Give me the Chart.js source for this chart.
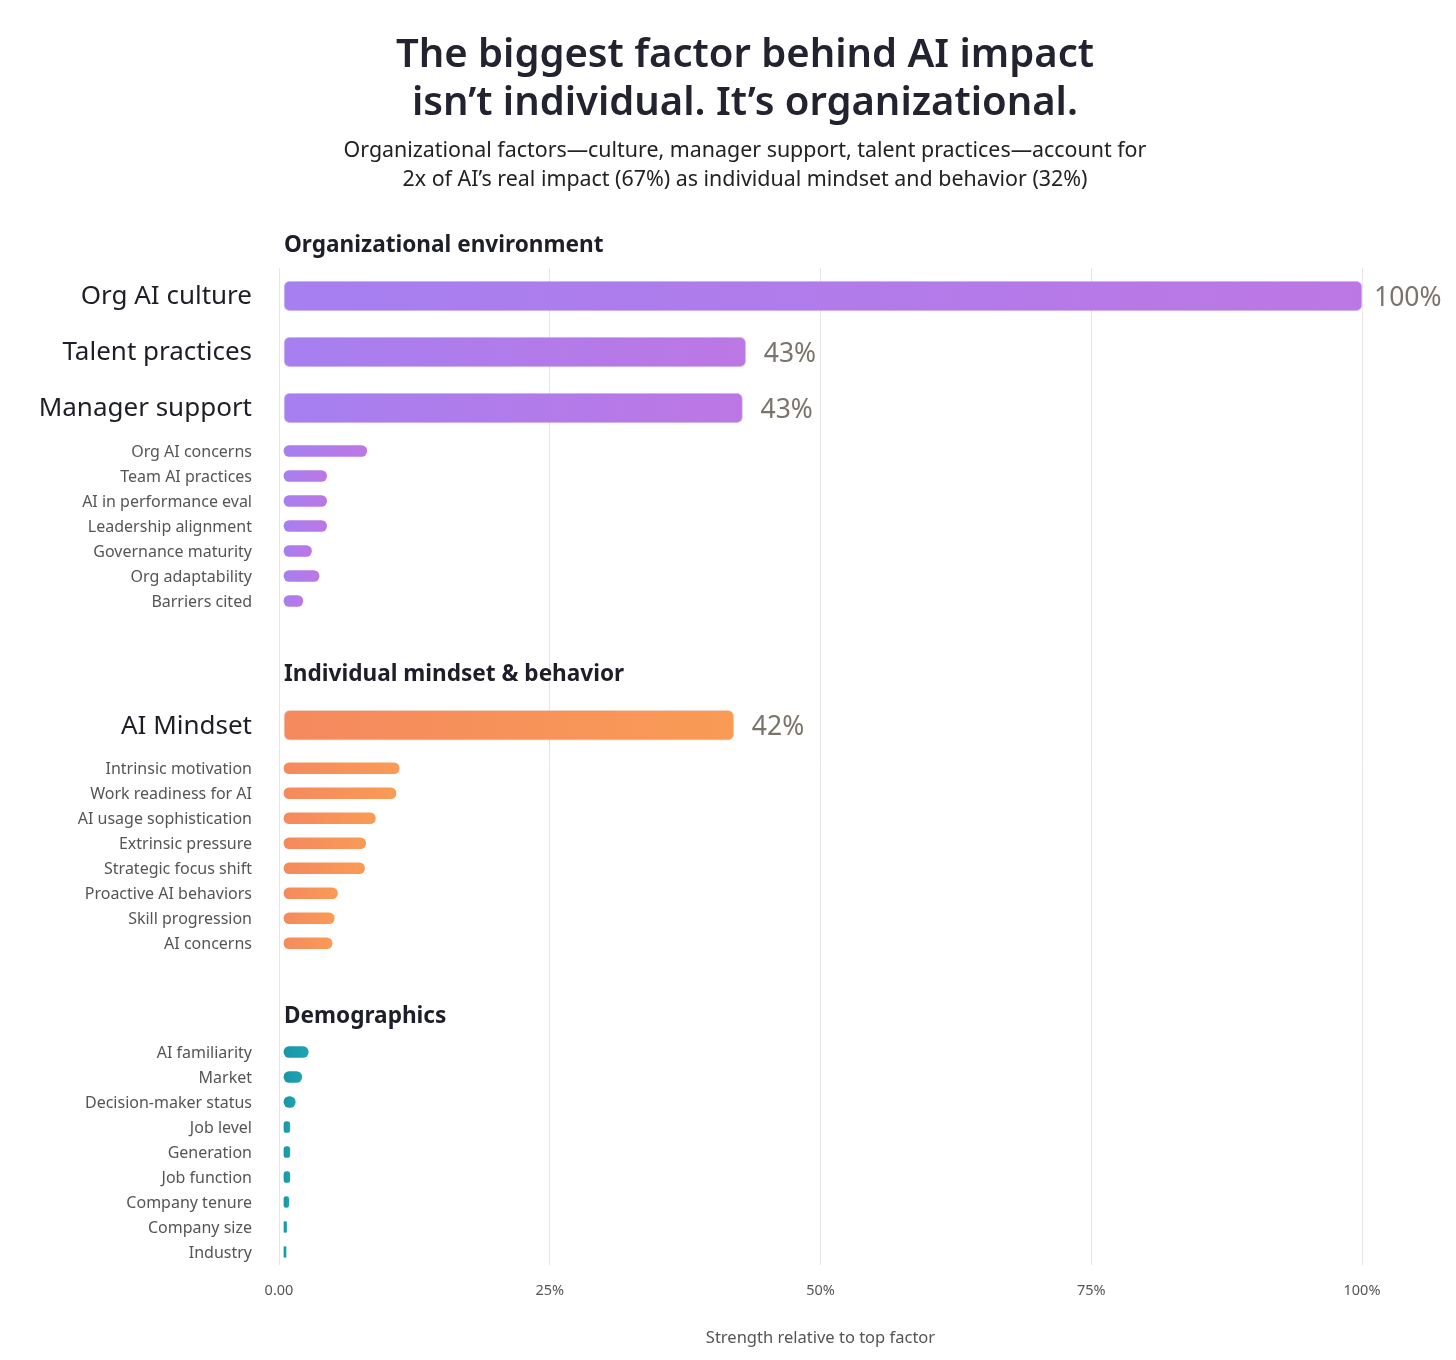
<!DOCTYPE html>
<html>
<head>
<meta charset="utf-8">
<script src="https://cdn.jsdelivr.net/npm/chart.js@4.4.1/dist/chart.umd.min.js"></script>
<style>
    html, body { margin: 0; padding: 0; background: #fff; }
    #wrap { position: relative; width: 1456px; height: 1360px; overflow: hidden; }
    #myChart { position: absolute; left: 0; top: 0; }
    .title { position: absolute; left: 745px; transform: translateX(-50%); white-space: nowrap;
             text-align: center; font-family: "Noto Sans", sans-serif; }
    #t1 { top: 28px; font-size: 40px; line-height: 48px; font-weight: 600; color: #23232f; }
    #t2 { top: 134px; font-size: 21.4px; line-height: 29px; color: #222; }
</style>
</head>
<body>
<div id="wrap">
    <canvas id="myChart" width="1456" height="1360"></canvas>
    <div class="title" id="t1">The biggest factor behind AI impact<br>isn’t individual. It’s organizational.</div>
    <div class="title" id="t2">Organizational factors—culture, manager support, talent practices—account for<br>2x of AI’s real impact (67%) as individual mindset and behavior (32%)</div>
</div>
<script>
// data
const sectionTitles = ["Organizational environment", "Individual mindset & behavior", "Demographics"];

const orgFactors = ["Org AI culture", "Talent practices", "Manager support", "Org AI concerns", "Team AI practices",
    "AI in performance eval", "Leadership alignment", "Governance maturity", "Org adaptability", "Barriers cited"];
const orgValues = [100, 43.1, 42.8, 8.1, 4.4, 4.4, 4.4, 3.0, 3.7, 2.2];

const indFactors = ["AI Mindset", "Intrinsic motivation", "Work readiness for AI", "AI usage sophistication",
    "Extrinsic pressure", "Strategic focus shift", "Proactive AI behaviors", "Skill progression", "AI concerns"];
const indValues = [42.0, 11.1, 10.8, 8.9, 8.0, 7.9, 5.4, 5.1, 4.9];

const demoFactors = ["AI familiarity", "Market", "Decision-maker status", "Job level", "Generation",
    "Job function", "Company tenure", "Company size", "Industry"];
const demoValues = [2.7, 2.1, 1.5, 1.0, 1.0, 1.0, 0.9, 0.7, 0.65];

// how many of the first factors in each section are the large headline rows
const headlineCounts = [3, 1, 0];

const tickLabels = ["0.00", "25%", "50%", "75%", "100%"];
const axisTitle = "Strength relative to top factor";

// layout
const ROW_H = { big: 56, small: 25, head: 83.75 };
const GAP_AFTER_BIG = 2.5;
const BAR_INSET = 0.46;   // bars start a few px right of the zero line

const FONT = '"Noto Sans", sans-serif';
Chart.defaults.font.family = FONT;

function buildRows() {
    const sections = [[orgFactors, orgValues], [indFactors, indValues], [demoFactors, demoValues]];
    const out = [];
    sections.forEach(([names, vals], s) => {
        if (s > 0) out.push({ label: "", kind: "head", section: s, value: null });
        names.forEach((n, i) => {
            out.push({ label: n, kind: i < headlineCounts[s] ? "big" : "small", section: s, value: vals[i] });
        });
    });
    return out;
}
const rows = buildRows();

// row boxes in layout units
let totalUnits = 0;
const geo = rows.map((r, i) => {
    if (r.kind === "small" && i > 0 && rows[i - 1].kind === "big") totalUnits += GAP_AFTER_BIG;
    const box = { top: totalUnits, h: ROW_H[r.kind] };
    totalUnits += ROW_H[r.kind];
    return box;
});

// category scale with rows of different heights
class RowScale extends Chart.CategoryScale {
    rowBox(i) {
        const k = this.height / totalUnits;
        return { top: this.top + geo[i].top * k, bottom: this.top + (geo[i].top + geo[i].h) * k };
    }
    getPixelForValue(value) {
        if (typeof value !== "number") value = this.parse(value);
        if (value === null || isNaN(value) || !geo[value]) return NaN;
        const b = this.rowBox(value);
        return (b.top + b.bottom) / 2;
    }
}
RowScale.id = "rows";
RowScale.defaults = Chart.CategoryScale.defaults;
Chart.register(RowScale);

function seriesFor(section, kind) {
    return rows.map(r => (r.section === section && r.kind === kind) ? r.value : null);
}

function isBig(c) {
    return rows[c.index] && rows[c.index].kind === "big";
}

function barFill(from, to) {
    return function (context) {
        const chart = context.chart;
        const parsed = context.parsed;
        if (!chart.chartArea || !parsed || parsed.x == null) return from;
        const xs = chart.scales.x;
        const x0 = xs.getPixelForValue(BAR_INSET);
        const x1 = xs.getPixelForValue(parsed.x);
        if (!isFinite(x0) || !isFinite(x1) || x1 - x0 < 2) return from;
        const g = chart.ctx.createLinearGradient(x0, 0, x1, 0);
        g.addColorStop(0, from);
        g.addColorStop(1, to);
        return g;
    };
}

const purple = ["#a67ff0", "#bc77e4"];
const orange = ["#f5895f", "#f99b55"];
const teal = ["#1896a7", "#1fa3b1"];

function bigSet(section, colors, border) {
    return {
        data: seriesFor(section, "big"),
        backgroundColor: barFill(colors[0], colors[1]),
        borderColor: border,
        borderWidth: 1,
        borderRadius: 6,
        barThickness: 30,
        showValue: true,
    };
}
function smallSet(section, colors) {
    return {
        data: seriesFor(section, "small"),
        backgroundColor: barFill(colors[0], colors[1]),
        borderWidth: 0,
        borderRadius: 6,
        barThickness: 11,
    };
}

const sectionHeaders = {
    id: "sectionHeaders",
    afterDraw(chart) {
        const { ctx, chartArea, scales } = chart;
        ctx.save();
        ctx.font = "700 22.6px " + FONT;
        ctx.fillStyle = "#1e1e2a";
        ctx.textAlign = "left";
        ctx.textBaseline = "middle";
        sectionTitles.forEach((t, s) => {
            let cy;
            if (s === 0) {
                cy = chartArea.top - 23;
            } else {
                const i = rows.findIndex(r => r.kind === "head" && r.section === s);
                cy = scales.y.rowBox(i).bottom - 24;
            }
            ctx.fillText(t, chartArea.left + 5, cy + 1);
        });
        ctx.restore();
    }
};

const valueLabels = {
    id: "valueLabels",
    afterDatasetsDraw(chart) {
        const ctx = chart.ctx;
        ctx.save();
        ctx.font = "26.5px " + FONT;
        ctx.fillStyle = "#7b746c";
        ctx.textAlign = "left";
        ctx.textBaseline = "middle";
        chart.data.datasets.forEach((ds, di) => {
            if (!ds.showValue) return;
            chart.getDatasetMeta(di).data.forEach((el, i) => {
                const v = ds.data[i];
                if (v == null) return;
                const gap = v >= 99.5 ? 12 : 18;
                ctx.fillText(Math.round(v) + "%", el.x + gap, el.y + 2);
            });
        });
        ctx.restore();
    }
};

function init() {
    const ctx = document.getElementById("myChart");

    new Chart(ctx, {
        type: "bar",
        data: {
            labels: rows.map(r => r.label),
            datasets: [
                bigSet(0, purple, "rgba(140, 90, 215, 0.35)"),
                smallSet(0, purple),
                bigSet(1, orange, "rgba(225, 120, 70, 0.35)"),
                smallSet(1, orange),
                smallSet(2, teal),
            ],
        },
        options: {
            indexAxis: "y",
            responsive: false,
            animation: false,
            events: [],
            datasets: {
                bar: { grouped: false, base: BAR_INSET, borderSkipped: false }
            },
            layout: {
                padding: { top: 268, right: 94, bottom: 0, left: 0 }
            },
            plugins: {
                legend: { display: false },
                title: { display: false },
                tooltip: { enabled: false },
            },
            scales: {
                x: {
                    type: "linear",
                    min: 0,
                    max: 100,
                    grid: { color: "#e6e6e6", lineWidth: 1, drawTicks: false },
                    border: { display: false },
                    ticks: {
                        stepSize: 25,
                        padding: 18,
                        color: "#555555",
                        font: { size: 14.5 },
                        callback: (v, i) => tickLabels[i],
                    },
                    title: {
                        display: true,
                        text: axisTitle,
                        color: "#555555",
                        font: { size: 16.5 },
                        padding: { top: 0, bottom: 12 },
                    },
                    afterFit: s => { s.height = 95.5; },
                },
                y: {
                    type: "rows",
                    offset: true,
                    grid: { display: false, drawTicks: false },
                    border: { display: false },
                    ticks: {
                        autoSkip: false,
                        padding: 27,
                        labelOffset: c => isBig(c) ? 2 : 1,
                        font: c => isBig(c) ? { size: 26 } : { size: 16 },
                        color: c => isBig(c) ? "#1e1e28" : "#555555",
                    },
                    afterFit: s => { s.width = 279; },
                },
            },
        },
        plugins: [sectionHeaders, valueLabels],
    });
}

window.onload = () => {
    init();
};
</script>
</body>
</html>
